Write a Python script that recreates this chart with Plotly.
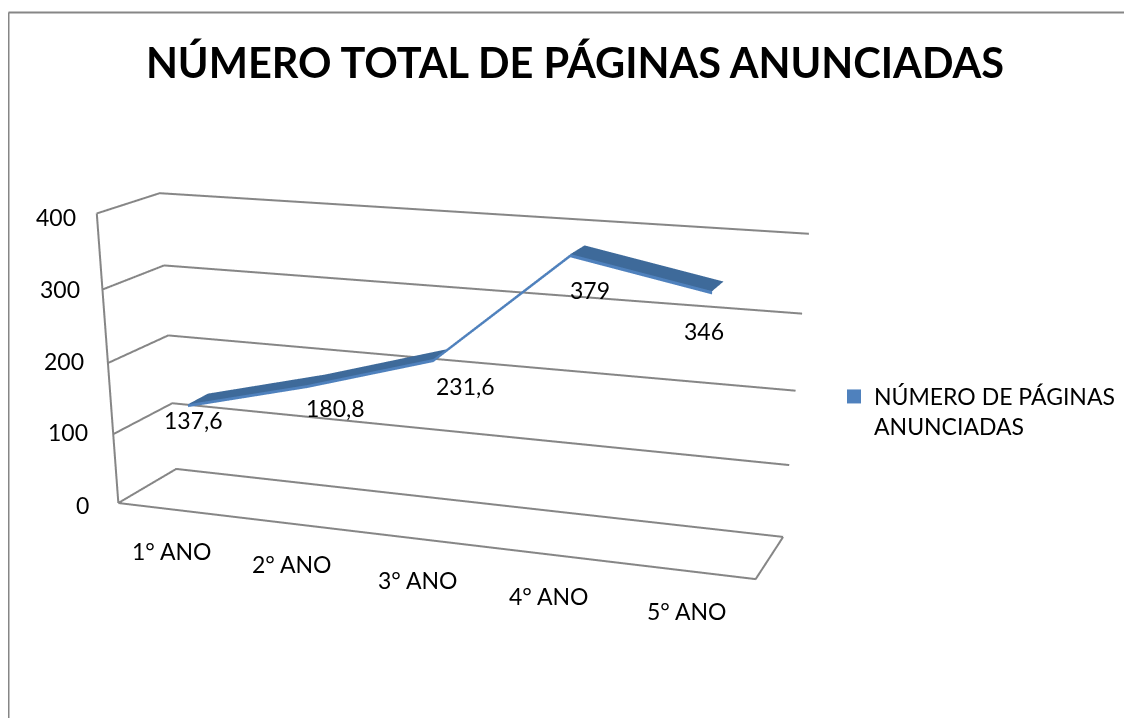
import numpy as np
import plotly.graph_objects as go

categories = ["1° ANO", "2° ANO", "3° ANO", "4° ANO", "5° ANO"]
values = [137.6, 180.8, 231.6, 379, 346]
value_labels = ["137,6", "180,8", "231,6", "379", "346"]
z_ticks = [0, 100, 200, 300, 400]
series_name = "NÚMERO DE PÁGINAS<br>ANUNCIADAS"
title_text = "NÚMERO TOTAL DE PÁGINAS ANUNCIADAS"

FONT = "Lato"
GRID = "#868686"
FIG_W, FIG_H = 1116, 1600
OFF = 8
def px(x): return (x - OFF) / FIG_W
def py(y): return 1 - (y - OFF) / FIG_H

x_max, y_max, z_max = len(values), 1, z_ticks[-1]
xc = np.arange(len(values)) + 0.5
y0, y1 = 0.3, 0.65
thick = 4.0

def ribbon(y_a, z_a, y_b, z_b, color):
    n = len(values)
    xs = np.r_[xc, xc]
    ys = np.r_[np.full(n, y_a), np.full(n, y_b)]
    zs = np.r_[z_a, z_b]
    i, j, k = [], [], []
    for m in range(n - 1):
        i += [m, m]
        j += [m + 1, m + 1 + n]
        k += [m + 1 + n, m + n]
    return go.Mesh3d(x=xs, y=ys, z=zs, i=i, j=j, k=k, color=color, flatshading=True,
                     lighting=dict(ambient=1, diffuse=0, specular=0, roughness=1, fresnel=0),
                     hoverinfo="skip", showlegend=False)

def wire(x, y, z):
    return go.Scatter3d(x=x, y=y, z=z, mode="lines", line=dict(color=GRID, width=4),
                        hoverinfo="skip", showlegend=False)

v = np.array(values, float)
fig = go.Figure()
for t in z_ticks:
    fig.add_trace(wire([x_max, 0, 0], [y_max, y_max, 0], [t, t, t]))
fig.add_trace(wire([0, x_max, x_max], [0, 0, y_max], [0, 0, 0]))
fig.add_trace(wire([0, 0], [0, 0], [0, z_max]))
fig.add_trace(ribbon(y0, v, y1, v, "#3e6a9a"))
fig.add_trace(ribbon(y0, v - thick, y0, v, "#4f81bd"))
fig.add_trace(go.Scatter3d(x=[None], y=[None], z=[None], mode="markers", name=series_name,
                           marker=dict(symbol="square", size=14, color="#4f81bd"), showlegend=True))

lab = dict(family=FONT, size=23, color="black")
shifts = [(6, 16), (28, 23), (32, 27), (20, 36), (-8, 40)]
annotations = [dict(x=xc[n], y=y0, z=values[n], text=value_labels[n], showarrow=False,
                    xshift=shifts[n][0], yshift=-shifts[n][1], font=lab) for n in range(len(values))]
cat_shifts = [(-4, 41.5), (-3, 40), (-2, 41), (0, 41.5), (1.5, 40)]
annotations += [dict(x=xc[n], y=0, z=0, text=categories[n], showarrow=False,
                     xshift=cat_shifts[n][0], yshift=-cat_shifts[n][1], font=lab) for n in range(len(values))]
tick_shifts = [(-27.5, -2), (-23.5, 2), (-21.5, 2), (-20.5, 1), (-18.5, -4)]
annotations += [dict(x=0, y=0, z=t, text=str(t), showarrow=False, xanchor="right",
                     xshift=s[0], yshift=s[1], font=lab) for t, s in zip(z_ticks, tick_shifts)]

axis = dict(showbackground=False, showspikes=False, zeroline=False, title=dict(text=""), ticks="", showticklabels=False)
fig.update_layout(
    width=FIG_W, height=FIG_H, margin=dict(l=0, r=0, t=0, b=0), paper_bgcolor="white",
    title=dict(text=title_text, x=px(575), xanchor="center", y=py(63), yanchor="middle",
               font=dict(family=FONT, size=41.5, color="black", weight="bold")),
    legend=dict(x=px(834), y=py(375), xanchor="left", yanchor="top", valign="top",
                font=dict(family=FONT, size=23, color="black"), bgcolor="rgba(0,0,0,0)"),
    shapes=[dict(type="line", xref="paper", yref="paper", x0=px(8.5), x1=1, y0=py(12.5), y1=py(12.5),
                 line=dict(color=GRID, width=2)),
            dict(type="line", xref="paper", yref="paper", x0=px(8.5), x1=px(8.5), y0=py(730), y1=py(12.5),
                 line=dict(color=GRID, width=2))],
    scene=dict(
        domain=dict(x=[0, 2 * (429.99 - OFF) / FIG_W], y=[0, 1]), aspectmode="manual",
        aspectratio=dict(x=2.2956, y=0.45, z=1),
        camera=dict(eye=dict(x=2.2115, y=-6.0711, z=1.5929),
                    center=dict(x=0.2313, y=-0.7454, z=-1.2329),
                    up=dict(x=0, y=0, z=1)),
        annotations=annotations,
        xaxis=dict(axis, range=[0, x_max], tickvals=list(xc), ticktext=categories, showgrid=False, showline=False),
        yaxis=dict(axis, range=[0, y_max], showgrid=False, showline=False),
        zaxis=dict(axis, range=[0, z_max], tickvals=z_ticks, showgrid=True, gridcolor=GRID, showline=False),
    ),
)
fig.write_html("out.html", post_script="document.documentElement.style.overflow='hidden';document.body.style.overflow='hidden';")
